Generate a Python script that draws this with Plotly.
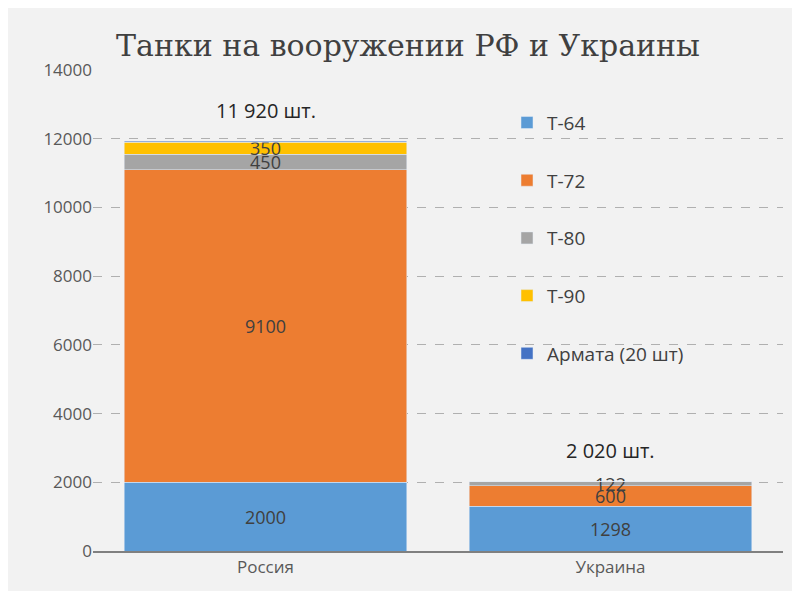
import plotly.graph_objects as go

countries = ["Россия", "Украина"]
t64 = [2000, 1298]
t72 = [9100, 600]
t80 = [450, 122]
t90 = [350, 0]
armata = [20, 0]
totals = ["11 920 шт.", "2 020 шт."]

series = [
    ("Т-64", t64, "#5b9bd5", ["2000", "1298"]),
    ("Т-72", t72, "#ed7d31", ["9100", "600"]),
    ("Т-80", t80, "#a5a5a5", ["450", "122"]),
    ("Т-90", t90, "#ffc000", ["350", ""]),
    ("Армата (20 шт)", armata, "#4472c4", ["", ""]),
]

fig = go.Figure()
for name, vals, color, labels in series:
    fig.add_trace(go.Bar(
        x=countries, y=vals, name=name, marker_color=color, legendgroup=name,
        text=labels, textposition="inside", insidetextanchor="middle",
        textfont=dict(size=18, color="#404040"), constraintext="none",
        cliponaxis=False,
    ))

totals_y = [sum(v) for v in zip(t64, t72, t80, t90, armata)]
for c, t, y in zip(countries, totals, totals_y):
    fig.add_annotation(x=c, y=min(y + 900, 13300), text=t,
                       showarrow=False, font=dict(size=20, color="#262626"))

fig.update_layout(
    width=800, height=591,
    barmode="stack", bargap=0.18,
    title=dict(text="Танки на вооружении РФ и Украины", x=0.5, y=0.955,
               font=dict(family="DejaVu Serif", size=30, color="#404040")),
    paper_bgcolor="#f2f2f2", plot_bgcolor="#f2f2f2",
    font=dict(family="Open Sans", color="#595959"),
    margin=dict(l=85, r=25, t=62, b=48),
    showlegend=True,
    legend=dict(x=0.6, y=0.93, xanchor="left", yanchor="top",
                traceorder="reversed+grouped", bgcolor="rgba(0,0,0,0)",
                font=dict(size=19, color="#404040"), tracegroupgap=30,
                itemwidth=30),
    yaxis=dict(range=[0, 14000], dtick=2000, tickformat="d", showgrid=True,
               gridcolor="#b0b0b0", griddash="dash", zeroline=False,
               tickfont=dict(size=17), showline=False, ticks=""),
    xaxis=dict(showline=True, linecolor="#808080", linewidth=1.5,
               tickfont=dict(size=17)),
)
fig.write_html("out.html")
